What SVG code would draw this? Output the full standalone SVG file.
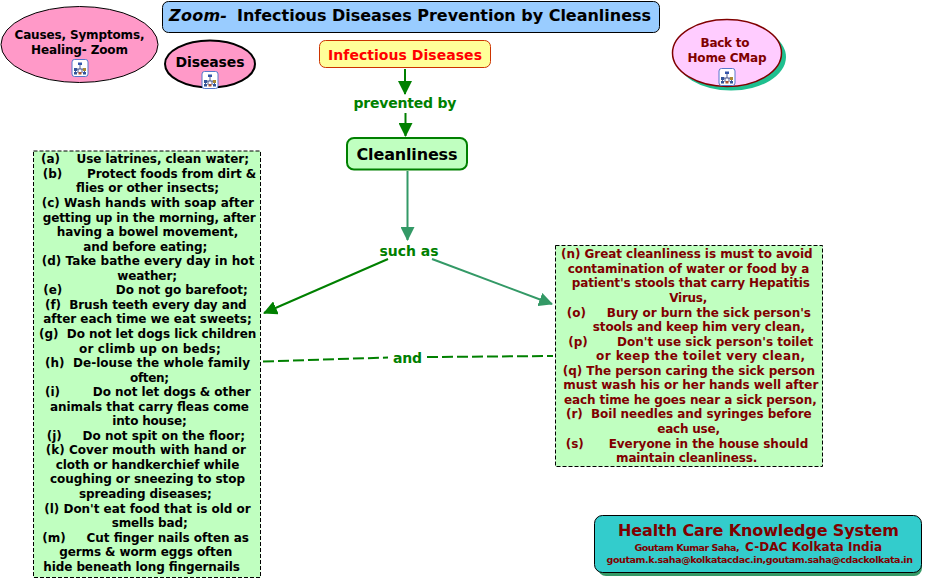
<svg xmlns="http://www.w3.org/2000/svg" width="927" height="580" viewBox="0 0 927 580">
<style>
text{font-family:"DejaVu Sans","Liberation Sans",sans-serif;font-weight:bold;white-space:pre}
.b{font-size:12px;fill:#000}
.r{font-size:12px;fill:#800000}
.n{font-size:12px;text-anchor:middle}
.lnk{font-size:14px;fill:#008000;text-anchor:middle}
.box{fill:#c0ffc0;stroke:#000;stroke-width:1;stroke-dasharray:4 2}
.con{fill:none;stroke-width:2}
</style>
<defs>
<marker id="ag" markerUnits="userSpaceOnUse" markerWidth="14" markerHeight="14" refX="13" refY="7" orient="auto"><path d="M0,0L14,7L0,14Z" fill="#008000"/></marker>
<marker id="at" markerUnits="userSpaceOnUse" markerWidth="14" markerHeight="14" refX="13" refY="7" orient="auto"><path d="M0,0L14,7L0,14Z" fill="#339966"/></marker>
<g id="ico">
<rect x="-8" y="-8.500" width="16" height="17" rx="2.500" fill="#fff" stroke="#5577cc" stroke-width="1"/>
<path d="M0,-3V1M-4.500,4V1H4.500V4M-2,1V5M2,1V5" fill="none" stroke="#223377" stroke-width="0.800"/>
<rect x="-2" y="-5.500" width="4" height="2.500" fill="#3355aa"/>
<rect x="-6" y="0" width="3" height="3" fill="#335599"/>
<rect x="3" y="0" width="3" height="3" fill="#aa8833"/>
<rect x="-6" y="4" width="3" height="2.500" fill="#335599"/>
<rect x="-1.500" y="4" width="3" height="2.500" fill="#aa5533"/>
<rect x="3" y="4" width="3" height="2.500" fill="#335599"/>
</g>
</defs>
<rect width="927" height="580" fill="#fff"/>
<g id="connectors">
<path class="con" stroke="#008000" d="M405,69V94" marker-end="url(#ag)"/>
<path class="con" stroke="#008000" d="M405.500,113V136" marker-end="url(#ag)"/>
<path class="con" stroke="#339966" d="M407.500,171V240" marker-end="url(#at)"/>
<path class="con" stroke="#008000" d="M388,259L264,313" marker-end="url(#ag)"/>
<path class="con" stroke="#339966" d="M432,259L552,304" marker-end="url(#at)"/>
<path class="con" stroke="#008000" stroke-dasharray="11 4" d="M263,361.500L388,357.500"/>
<path class="con" stroke="#008000" stroke-dasharray="11 4" d="M427,357L553,356"/>
</g>
<g id="n-causes">
<ellipse cx="79.500" cy="44.500" rx="78.500" ry="38" fill="#ff99c8" stroke="#000" stroke-width="1"/>
<text class="n" x="79.500" y="39" textLength="130">Causes, Symptoms,</text>
<text class="n" x="79.500" y="54" textLength="97">Healing- Zoom</text>
<use href="#ico" x="80" y="68"/>
</g>
<g id="n-diseases">
<ellipse cx="210" cy="64" rx="45" ry="23.500" fill="#ff99c8" stroke="#000" stroke-width="2"/>
<text x="210" y="67" font-size="14" text-anchor="middle" textLength="69">Diseases</text>
<use href="#ico" x="210" y="80"/>
</g>
<g id="n-title">
<rect x="162.500" y="1.500" width="497" height="31" rx="6" fill="#99ccff" stroke="#000" stroke-width="1"/>
<text x="169" y="21" font-size="16" font-style="italic" textLength="58">Zoom-</text>
<text x="237" y="21" font-size="16" textLength="414">Infectious Diseases Prevention by Cleanliness</text>
</g>
<g id="n-infectious">
<rect x="319.500" y="40.500" width="171" height="27" rx="6" fill="#ffff99" stroke="#cc3300" stroke-width="1"/>
<text x="405" y="60" font-size="14" fill="#ff0000" text-anchor="middle" textLength="154">Infectious Diseases</text>
</g>
<g id="l-prevented"><text class="lnk" x="405" y="107.500" textLength="103">prevented by</text></g>
<g id="n-clean">
<rect x="347" y="138" width="120" height="31.500" rx="7" fill="#c0ffc0" stroke="#008000" stroke-width="2"/>
<text x="407" y="160" font-size="16" text-anchor="middle" textLength="101">Cleanliness</text>
</g>
<g id="l-such"><text class="lnk" x="409" y="256" textLength="59">such as</text></g>
<g id="l-and"><text class="lnk" x="407.500" y="362.500" textLength="29">and</text></g>
<g id="n-home">
<ellipse cx="731" cy="57" rx="55" ry="33.500" fill="#1fbf8f"/>
<ellipse cx="727" cy="53" rx="54.500" ry="33.500" fill="#ffccff" stroke="#800000" stroke-width="1.500"/>
<text class="n" fill="#800000" x="725" y="47" textLength="49">Back to</text>
<text class="n" fill="#800000" x="727" y="62" textLength="79">Home CMap</text>
<use href="#ico" x="727" y="77"/>
</g>
<g id="n-left">
<rect class="box" x="33.500" y="151" width="227" height="426.500"/>
<text class="b" x="41" y="163.300" textLength="208">(a)    Use latrines, clean water;</text>
<text class="b" x="42.700" y="177.900" textLength="213.600">(b)      Protect foods from dirt &amp;</text>
<text class="b" x="76" y="192.400" textLength="143">flies or other insects;</text>
<text class="b" x="41.700" y="207" textLength="212.300">(c) Wash hands with soap after</text>
<text class="b" x="42.700" y="221.500" textLength="213">getting up in the morning, after</text>
<text class="b" x="56.700" y="236.100" textLength="181.600">having a bowel movement,</text>
<text class="b" x="83.300" y="250.600" textLength="124">and before eating;</text>
<text class="b" x="41.700" y="265.200" textLength="212.700">(d) Take bathe every day in hot</text>
<text class="b" x="117.300" y="279.700" textLength="59.700">weather;</text>
<text class="b" x="43.300" y="294.300" textLength="204.400">(e)             Do not go barefoot;</text>
<text class="b" x="45" y="308.800" textLength="201.700">(f)  Brush teeth every day and</text>
<text class="b" x="43.300" y="323.400" textLength="208.400">after each time we eat sweets;</text>
<text class="b" x="39" y="337.900" textLength="217.300">(g)  Do not let dogs lick children</text>
<text class="b" x="79" y="352.500" textLength="141.700">or climb up on beds;</text>
<text class="b" x="45" y="367" textLength="205">(h)  De-louse the whole family</text>
<text class="b" x="130" y="381.600" textLength="39">often;</text>
<text class="b" x="45" y="396.100" textLength="205.700">(i)        Do not let dogs &amp; other</text>
<text class="b" x="50" y="410.700" textLength="199">animals that carry fleas come</text>
<text class="b" x="112.300" y="425.200" textLength="74.400">into house;</text>
<text class="b" x="46.700" y="439.800" textLength="198.300">(j)     Do not spit on the floor;</text>
<text class="b" x="45.700" y="454.300" textLength="200.300">(k) Cover mouth with hand or</text>
<text class="b" x="55.700" y="468.900" textLength="183.600">cloth or handkerchief while</text>
<text class="b" x="50" y="483.400" textLength="195">coughing or sneezing to stop</text>
<text class="b" x="79" y="498" textLength="132.700">spreading diseases;</text>
<text class="b" x="44.300" y="512.500" textLength="206.400">(l) Don't eat food that is old or</text>
<text class="b" x="111.700" y="527.100" textLength="76">smells bad;</text>
<text class="b" x="42.300" y="541.600" textLength="206.700">(m)     Cut finger nails often as</text>
<text class="b" x="59.300" y="556.200" textLength="173">germs &amp; worm eggs often</text>
<text class="b" x="43.300" y="570.700" textLength="196.700">hide beneath long fingernails</text>
</g>
<g id="n-right">
<rect class="box" x="555.500" y="245.500" width="267" height="221"/>
<text class="r" x="561" y="258.300" textLength="251.700">(n) Great cleanliness is must to avoid</text>
<text class="r" x="567.700" y="272.900" textLength="241.600">contamination of water or food by a</text>
<text class="r" x="571.700" y="287.400" textLength="238.300">patient's stools that carry Hepatitis</text>
<text class="r" x="669.300" y="302" textLength="38">Virus,</text>
<text class="r" x="566.700" y="316.500" textLength="244.300">(o)     Bury or burn the sick person's</text>
<text class="r" x="592.700" y="331.100" textLength="212.300">stools and keep him very clean,</text>
<text class="r" x="568.300" y="345.600" textLength="245">(p)       Don't use sick person's toilet</text>
<text class="r" x="596" y="360.200" textLength="209">or keep the toilet very clean,</text>
<text class="r" x="562.700" y="374.700" textLength="252.300">(q) The person caring the sick person</text>
<text class="r" x="563.300" y="389.300" textLength="255">must wash his or her hands well after</text>
<text class="r" x="564" y="403.800" textLength="252.700">each time he goes near a sick person,</text>
<text class="r" x="566" y="418.400" textLength="245.700">(r)  Boil needles and syringes before</text>
<text class="r" x="657.300" y="432.900" textLength="62.700">each use,</text>
<text class="r" x="565.700" y="447.500" textLength="242.600">(s)      Everyone in the house should</text>
<text class="r" x="616" y="461.700" textLength="141.300">maintain cleanliness.</text>
</g>
<g id="n-hcks">
<rect x="598" y="519" width="324" height="57" rx="8" fill="#339966"/>
<rect x="594.500" y="515.500" width="327" height="57" rx="8" fill="#33cccc" stroke="#000" stroke-width="1"/>
<text x="618" y="536" font-size="16" fill="#800000" textLength="281">Health Care Knowledge System</text>
<text x="634.500" y="551" font-size="9.500" fill="#800000" textLength="105">Goutam Kumar Saha,</text>
<text x="745" y="551" font-size="12" fill="#800000" textLength="137">C-DAC Kolkata India</text>
<text x="606.500" y="563" font-size="9.500" fill="#800000" textLength="306.500">goutam.k.saha@kolkatacdac.in,goutam.saha@cdackolkata.in</text>
</g>
</svg>
